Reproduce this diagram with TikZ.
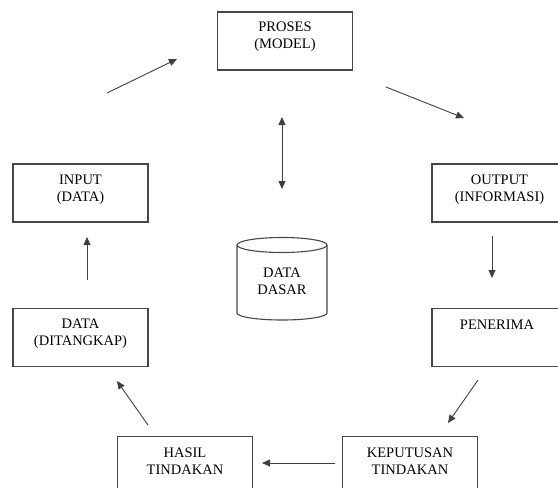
\documentclass[tikz,border=0pt]{standalone}
\usepackage{fontspec}
\setmainfont{Liberation Serif}
\usetikzlibrary{arrows.meta}
\begin{document}
\begin{tikzpicture}[x=1pt,y=-1pt,
  boxstyle/.style={draw=black!72,line width=1.1pt,minimum width=135pt,minimum height=58pt,inner sep=0pt},
  txt/.style={anchor=base,inner sep=0pt,font=\fontsize{14.5}{17}\selectfont,text=black},
  conn/.style={draw=black!75,line width=0.9pt,-{Triangle[length=8pt,width=7pt]}},
  dconn/.style={draw=black!75,line width=0.9pt,{Triangle[length=8pt,width=7pt]}-{Triangle[length=8pt,width=7pt]}}]
\useasboundingbox (0,0) rectangle (558,488);
\clip (0,0) rectangle (558,488);
% boxes
\node[boxstyle] (proses) at (285,41) {};
\node[boxstyle] (input) at (80.5,193) {};
\node[boxstyle] (output) at (499.5,193) {};
\node[boxstyle] (ditangkap) at (80.5,337.5) {};
\node[boxstyle] (penerima) at (499.5,337.5) {};
\node[boxstyle] (hasil) at (185,465.5) {};
\node[boxstyle] (keputusan) at (410,465.5) {};
% texts
\node[txt] (t1a) at (285,31) {PROSES};
\node[txt] (t1b) at (285,48) {(MODEL)};
\node[txt] (t2a) at (80.5,184) {INPUT};
\node[txt] (t2b) at (80.5,201) {(DATA)};
\node[txt] (t3a) at (499.5,184) {OUTPUT};
\node[txt] (t3b) at (499.5,201) {(INFORMASI)};
\node[txt] (t4a) at (80.5,328) {DATA};
\node[txt] (t4b) at (80.5,345) {(DITANGKAP)};
\node[txt] (t5a) at (497,329) {PENERIMA};
\node[txt] (t6a) at (185,457) {HASIL};
\node[txt] (t6b) at (185,474) {TINDAKAN};
\node[txt] (t7a) at (410,457) {KEPUTUSAN};
\node[txt] (t7b) at (410,474) {TINDAKAN};
% cylinder
\draw[draw=black!72,line width=1.1pt] (237,245) -- (237,313) arc[start angle=180,end angle=0,x radius=45,y radius=7] -- (327,245);
\draw[draw=black!72,line width=1.1pt] (282,245) ellipse[x radius=45,y radius=7.5];
\node[txt] (t8a) at (282,277) {DATA};
\node[txt] (t8b) at (282,294) {DASAR};
% connector end points
\coordinate (a1s) at (107,93); \coordinate (a1e) at (177,59);
\coordinate (a2s) at (386,87); \coordinate (a2e) at (464,118);
\coordinate (a3s) at (282,117); \coordinate (a3e) at (282,189);
\coordinate (a4s) at (492,236); \coordinate (a4e) at (492,278);
\coordinate (a5s) at (478,380); \coordinate (a5e) at (448,423);
\coordinate (a6s) at (335,463); \coordinate (a6e) at (262,463);
\coordinate (a7s) at (148,425); \coordinate (a7e) at (117,381);
\coordinate (a8s) at (87,280); \coordinate (a8e) at (87,237);
\draw[conn] (a1s) -- (a1e);
\draw[conn] (a2s) -- (a2e);
\draw[dconn] (a3s) -- (a3e);
\draw[conn] (a4s) -- (a4e);
\draw[conn] (a5s) -- (a5e);
\draw[conn] (a6s) -- (a6e);
\draw[conn] (a7s) -- (a7e);
\draw[conn] (a8s) -- (a8e);
\end{tikzpicture}
\end{document}
